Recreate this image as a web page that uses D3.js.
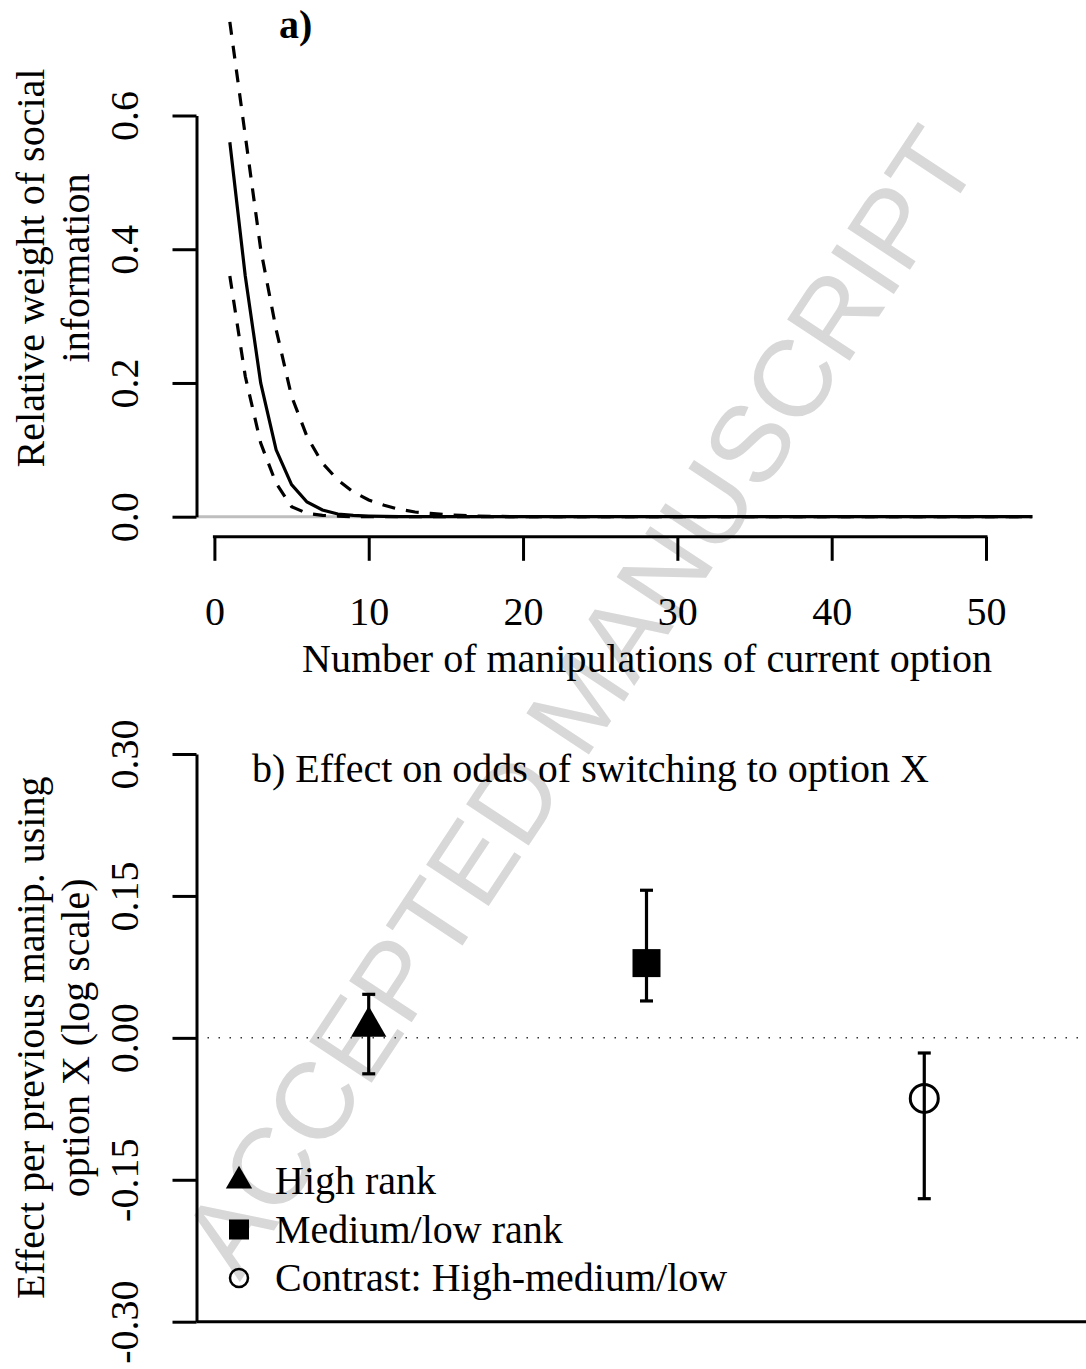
<!DOCTYPE html>
<html>
<head>
<meta charset="utf-8">
<script src="https://cdn.jsdelivr.net/npm/d3@7"></script>
<style>
  body { margin: 0; background: #fff; }
  svg { display: block; }
  text { font-family: "Liberation Serif", "Times New Roman", serif; }
</style>
</head>
<body>
<svg id="chart" width="1086" height="1369"></svg>
<script>
// panel a) relative weight of social information
const manips      = [1, 2, 3, 4, 5, 6, 7, 8, 9, 10, 11, 12, 13, 14, 15, 16, 17, 18, 20, 53];
const weightMean  = [0.56, 0.36, 0.20, 0.10, 0.048, 0.022, 0.010, 0.004, 0.002, 0.001, 0.0005, 0, 0, 0, 0, 0, 0, 0, 0, 0];
const weightUpper = [0.74, 0.57, 0.40, 0.28, 0.18, 0.12, 0.08, 0.055, 0.037, 0.025, 0.017, 0.011, 0.007, 0.005, 0.003, 0.002, 0.001, 0.0005, 0, 0];
const weightLower = [0.36, 0.21, 0.11, 0.05, 0.015, 0.005, 0.002, 0.001, 0, 0, 0, 0, 0, 0, 0, 0, 0, 0, 0, 0];
const xTicksA = [0, 10, 20, 30, 40, 50];
const yTicksA = [0, 0.2, 0.4, 0.6];

// panel b) effect on odds of switching
const groups   = ["High rank", "Medium/low rank", "Contrast: High-medium/low"];
const shapes   = ["triangle", "square", "circle"];
const effect   = [0.012, 0.079, -0.064];
const effectLo = [-0.038, 0.039, -0.170];
const effectHi = [0.046, 0.156, -0.016];
const yTicksB  = [-0.30, -0.15, 0.00, 0.15, 0.30];

const svg = d3.select("#chart");
const FS = 40;
// R prints a plain hyphen for negatives
const fmt = f => d => d3.format(f)(d).replace("\u2212", "-");

// watermark
svg.append("text")
    .attr("transform", "translate(578,700) rotate(-56.5)")
    .attr("text-anchor", "middle")
    .attr("dy", "0.36em")
    .style("font-family", "'Liberation Sans', Arial, sans-serif")
    .style("font-size", "109px")
    .attr("fill", "#d8d8d8")
    .text("ACCEPTED MANUSCRIPT");

// ---------- panel a ----------
const xA = d3.scaleLinear().domain([-1.16, 57.16]).range([196.5, 1096.5]);
const yA = d3.scaleLinear().domain([0, 0.6]).range([516.7, 115.5]);

const gA = svg.append("g");

// grey zero line
gA.append("line")
    .attr("x1", xA(-1.16)).attr("x2", xA(53))
    .attr("y1", yA(0)).attr("y2", yA(0))
    .attr("stroke", "#bebebe").attr("stroke-width", 3);

const line = d3.line().x((d, i) => xA(manips[i])).y(d => yA(d));

[[weightUpper, "13,11"], [weightLower, "13,11"], [weightMean, null]].forEach(([vals, dash]) => {
    gA.append("path")
        .datum(vals)
        .attr("d", line)
        .attr("fill", "none")
        .attr("stroke", "#000")
        .attr("stroke-width", 3.2)
        .attr("stroke-dasharray", dash);
});

// y axis
const yAxisA = gA.append("g")
    .attr("transform", `translate(${xA(-1.16)},0)`)
    .call(d3.axisLeft(yA).tickValues(yTicksA).tickSize(24).tickSizeOuter(0).tickFormat(fmt(".1f")));

// x axis (R style, separate line below)
const xAxisA = gA.append("g")
    .attr("transform", "translate(0,536.8)")
    .call(d3.axisBottom(xA).tickValues(xTicksA).tickSize(24).tickSizeOuter(0).tickFormat(d3.format("d")));
xAxisA.select(".domain").remove();
xAxisA.append("line")
    .attr("x1", xA(0)).attr("x2", xA(50))
    .attr("stroke", "#000").attr("stroke-width", 3).attr("stroke-linecap", "square");
xAxisA.selectAll(".tick text").attr("y", 88).attr("dy", 0);

gA.append("text")
    .attr("x", 279).attr("y", 38)
    .style("font-size", FS + "px").style("font-weight", "bold")
    .text("a)");

gA.append("text")
    .attr("x", 647).attr("y", 672)
    .attr("text-anchor", "middle")
    .style("font-size", FS + "px")
    .text("Number of manipulations of current option");

const titleA = gA.append("text")
    .attr("transform", "translate(0,268) rotate(-90)")
    .attr("text-anchor", "middle")
    .style("font-size", FS + "px");
titleA.append("tspan").attr("x", 0).attr("y", 44).text("Relative weight of social");
titleA.append("tspan").attr("x", 0).attr("y", 89).text("information");

// ---------- panel b ----------
const xB = d3.scaleLinear().domain([0.38, 3.62]).range([196.5, 1096.5]);
const yB = d3.scaleLinear().domain([-0.3, 0.3]).range([1321.7, 754]);

const gB = svg.append("g");

gB.append("line")
    .attr("x1", xB(0.38)).attr("x2", 1086)
    .attr("y1", yB(0)).attr("y2", yB(0))
    .attr("stroke", "#333").attr("stroke-width", 1.5)
    .attr("stroke-dasharray", "1.5,9.5");

gB.append("line")
    .attr("x1", xB(0.38)).attr("x2", 1086)
    .attr("y1", yB(-0.3)).attr("y2", yB(-0.3))
    .attr("stroke", "#000").attr("stroke-width", 3);

const yAxisB = gB.append("g")
    .attr("transform", `translate(${xB(0.38)},0)`)
    .call(d3.axisLeft(yB).tickValues(yTicksB).tickSize(24).tickSizeOuter(0).tickFormat(fmt(".2f")));

// error bars
const pts = groups.map((g, i) => ({ g, i, x: i + 1, y: effect[i], lo: effectLo[i], hi: effectHi[i], shape: shapes[i] }));
const bars = gB.append("g").selectAll("g").data(pts).join("g");
bars.append("line")
    .attr("x1", d => xB(d.x)).attr("x2", d => xB(d.x))
    .attr("y1", d => yB(d.lo)).attr("y2", d => yB(d.hi));
bars.append("line")
    .attr("x1", d => xB(d.x) - 6.5).attr("x2", d => xB(d.x) + 6.5)
    .attr("y1", d => yB(d.lo)).attr("y2", d => yB(d.lo));
bars.append("line")
    .attr("x1", d => xB(d.x) - 6.5).attr("x2", d => xB(d.x) + 6.5)
    .attr("y1", d => yB(d.hi)).attr("y2", d => yB(d.hi));
bars.selectAll("line").attr("stroke", "#000").attr("stroke-width", 3.2);

function marker(sel, shape, big) {
    if (shape === "circle") {
        sel.append("circle").attr("r", big ? 14 : 9)
            .attr("fill", "none").attr("stroke", "#000").attr("stroke-width", big ? 3 : 2.5);
    } else {
        const type = shape === "triangle" ? d3.symbolTriangle : d3.symbolSquare;
        const size = shape === "triangle" ? (big ? 540 : 300) : (big ? 784 : 400);
        sel.append("path").attr("d", d3.symbol(type, size)()).attr("fill", "#000");
    }
}

bars.each(function(d) {
    const g = d3.select(this).append("g").attr("transform", `translate(${xB(d.x)},${yB(d.y)})`);
    marker(g, d.shape, true);
});

gB.append("text")
    .attr("x", 252).attr("y", 782)
    .style("font-size", FS + "px")
    .text("b) Effect on odds of switching to option X");

// legend
const legend = gB.append("g").selectAll("g").data(groups).join("g")
    .attr("transform", (d, i) => `translate(239,${1181 + i * 48.5})`);
legend.each(function(d, i) { marker(d3.select(this), shapes[i], false); });
legend.append("text")
    .attr("x", 36).attr("y", 13)
    .style("font-size", FS + "px")
    .text(d => d);

const titleB = gB.append("text")
    .attr("transform", `translate(0,${(yB(0.3) + yB(-0.3)) / 2}) rotate(-90)`)
    .attr("text-anchor", "middle")
    .style("font-size", FS + "px");
titleB.append("tspan").attr("x", 0).attr("y", 44).text("Effect per previous manip. using");
titleB.append("tspan").attr("x", 0).attr("y", 89).text("option X (log scale)");

// common axis styling (R look)
[yAxisA, yAxisB].forEach(ax => {
    ax.selectAll(".tick text")
        .attr("transform", "rotate(-90)")
        .attr("x", 0).attr("y", -59).attr("dy", 0)
        .attr("text-anchor", "middle");
});
[yAxisA, xAxisA, yAxisB].forEach(ax => {
    ax.selectAll(".domain").attr("stroke", "#000").attr("stroke-width", 3);
    ax.selectAll(".tick line").attr("stroke", "#000").attr("stroke-width", 3);
    ax.selectAll(".tick text")
        .attr("fill", "#000")
        .style("font-family", "'Liberation Serif', 'Times New Roman', serif")
        .style("font-size", FS + "px");
});
</script>
</body>
</html>
